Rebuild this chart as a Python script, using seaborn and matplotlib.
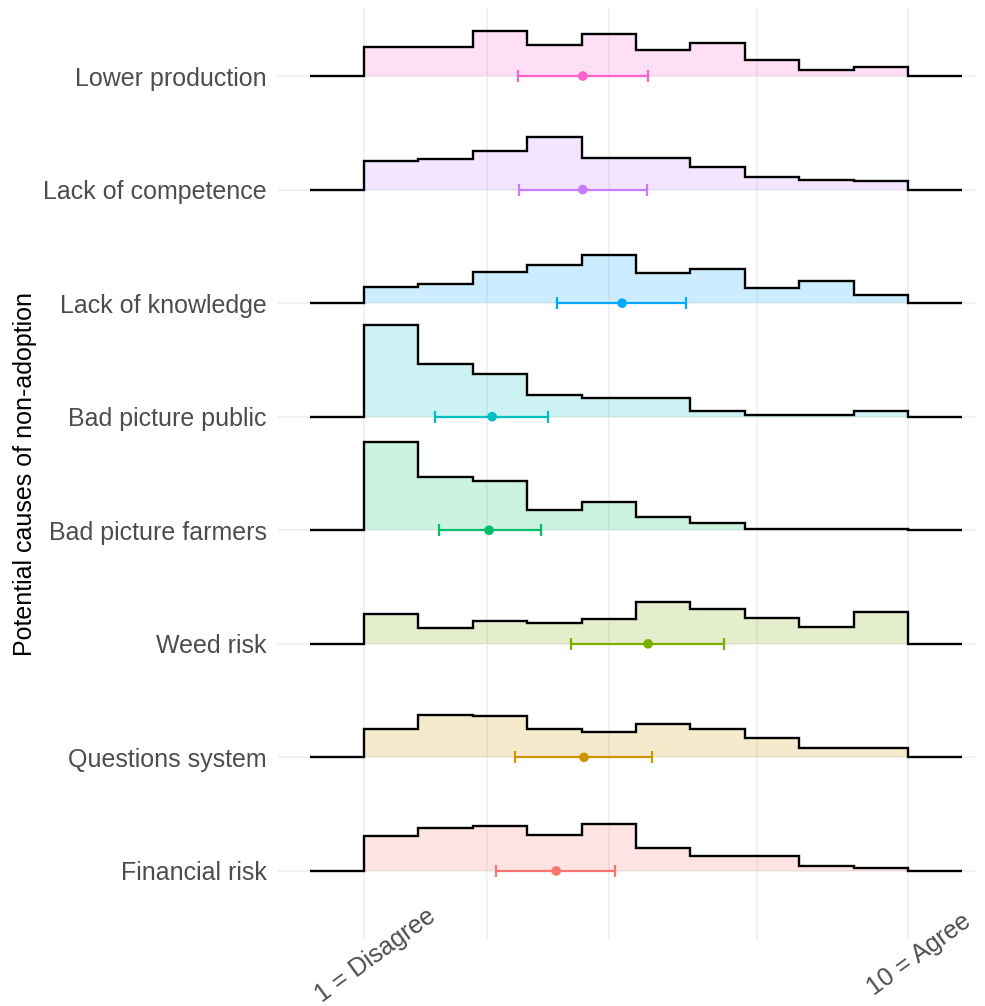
import numpy as np
import pandas as pd
import matplotlib.pyplot as plt
import seaborn as sns
from matplotlib.transforms import ScaledTranslation

# causes from bottom to top, ggplot hue colours
causes = ["Financial risk", "Questions system", "Weed risk", "Bad picture farmers",
          "Bad picture public", "Lack of knowledge", "Lack of competence", "Lower production"]
colors = ["#F8766D", "#CD9600", "#7CAE00", "#00BE67",
          "#00BFC4", "#00A9FF", "#C77CFF", "#FF61CC"]

scores = list(range(1, 11))
x_breaks = [1, 10]
x_labels = ["1 = Disagree", "10 = Agree"]

# share of answers (%) for each score 1..10
financial = [13.1, 16.1, 16.9, 13.5, 17.6, 8.6, 5.6, 5.6, 1.9, 1.1]
questions = [10.6, 16.2, 15.5, 10.9, 9.8, 12.5, 10.6, 7.2, 3.4, 3.4]
weed = [11.2, 6.0, 8.6, 7.9, 9.4, 15.7, 13.1, 9.7, 6.4, 12.0]
farmers = [33.6, 20.1, 18.6, 7.7, 10.8, 5.0, 2.7, 0.5, 0.5, 0.4]
public = [34.8, 20.1, 16.3, 8.3, 7.2, 7.2, 2.3, 0.8, 0.8, 2.3]
knowledge = [6.1, 7.3, 11.9, 14.6, 18.4, 11.5, 13.0, 5.7, 8.4, 3.1]
competence = [10.7, 11.5, 14.5, 19.8, 11.8, 11.8, 8.4, 4.6, 3.8, 3.1]
lower_prod = [10.9, 10.9, 16.9, 11.7, 15.8, 9.8, 12.4, 6.0, 2.3, 3.4]
shares = [financial, questions, weed, farmers, public, knowledge, competence, lower_prod]

# mean and interval per cause
means = [4.18, 4.64, 5.70, 3.07, 3.12, 5.27, 4.62, 4.62]
lows = [3.18, 3.50, 4.42, 2.24, 2.17, 4.19, 3.56, 3.55]
highs = [5.15, 5.77, 6.96, 3.93, 4.04, 6.33, 5.68, 5.70]

summary = pd.DataFrame({"cause": causes, "mean": means, "low": lows, "high": highs,
                        "pos": range(len(causes))})

sns.set_theme(style="whitegrid")
plt.rcParams["font.family"] = ["Liberation Sans", "DejaVu Sans"]

fig = plt.figure(figsize=(9.85, 10.06), dpi=100)
ax = fig.add_axes([278 / 985, 1 - 940 / 1006, 697 / 985, 932 / 1006])

# 10 bins over 1..10 plus an empty bin on each side (ridgeline baseline)
edges = np.linspace(1, 10, 11)
w = edges[1] - edges[0]
padded = np.r_[edges[0] - w, edges, edges[-1] + w]
k = 0.02325  # ridge height per percent

for i, (vals, col) in enumerate(zip(shares, colors)):
    h = np.asarray(vals) * k
    ax.stairs(i + h, edges, baseline=i, fill=True, color=col, alpha=0.2, lw=0, zorder=2)
    ax.stairs(i + np.r_[0, h, 0], padded, baseline=i, fill=False,
              color="black", lw=1.7, zorder=3)

for i, row in summary.iterrows():
    ax.errorbar(row["mean"], row["pos"],
                xerr=[[row["mean"] - row["low"]], [row["high"] - row["mean"]]],
                fmt="none", ecolor=colors[i], elinewidth=1.6, capsize=4.5, capthick=1.6,
                zorder=4)

sns.scatterplot(data=summary, x="mean", y="pos", hue="cause", palette=colors,
                hue_order=causes, s=48, edgecolor="none", legend=False, zorder=5, ax=ax)

ax.set_xlim(-0.423, 11.109)
ax.set_ylim(-0.608, 7.599)
ax.set_yticks(range(len(causes)))
ax.set_yticklabels(causes)
ax.set_xticks(x_breaks)
ax.set_xticks([3.03, 5.05, 7.5], minor=True)
ax.set_xticklabels([])

# rotated x labels, centred slightly right of and below each break
shift = ax.get_xaxis_transform() + ScaledTranslation(0.11, -0.15, fig.dpi_scale_trans)
for xb, lab in zip(x_breaks, x_labels):
    ax.text(xb, 0, lab, transform=shift, rotation=36, rotation_mode="anchor",
            ha="center", va="center", fontsize=18, color="#4D4D4D")

ax.grid(which="both", color="#EDEDED", lw=1.1)
ax.set_axisbelow(True)
for s in ax.spines.values():
    s.set_visible(False)
ax.tick_params(axis="both", which="both", length=0, labelsize=18, labelcolor="#4D4D4D")
ax.tick_params(axis="y", pad=8)
ax.set_xlabel("")
ax.set_ylabel("")

fig.text(25 / 985, 1 - 474 / 1006, "Potential causes of non-adoption", rotation=90,
         ha="center", va="center", fontsize=18, color="black")

fig.savefig("out.png", dpi=100)
